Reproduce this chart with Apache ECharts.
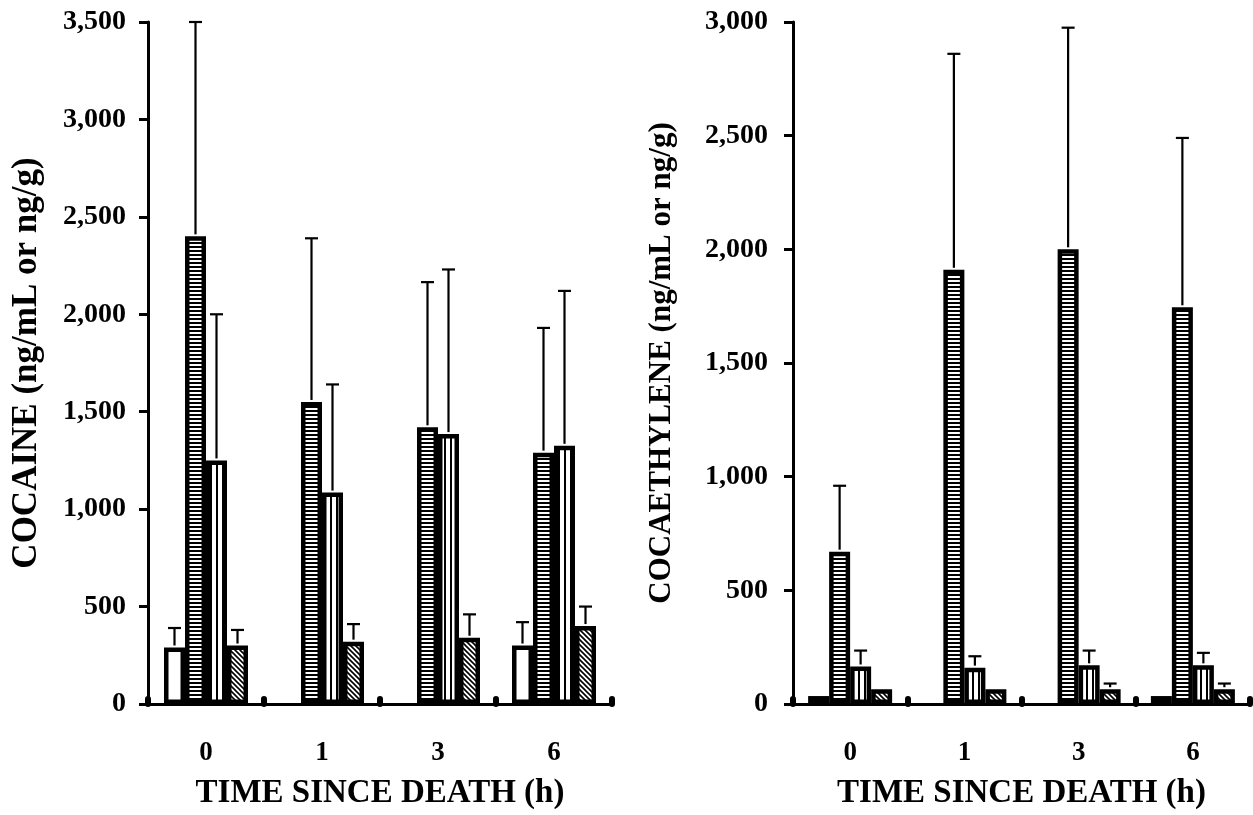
<!DOCTYPE html>
<html>
<head>
<meta charset="utf-8">
<script src="https://cdn.jsdelivr.net/npm/echarts@6/dist/echarts.min.js"></script>
<style>
  html, body { margin: 0; padding: 0; background: #fff; }
  #chart { width: 1253px; height: 815px; }
</style>
</head>
<body>
<div id="chart"></div>
<script>
// time since death (h)
const categories = ['0', '1', '3', '6'];

// cocaine, means
const cocOpen = [290, 0, 0, 300];
const cocHoriz = [2400, 1550, 1420, 1290];
const cocVert = [1250, 1085, 1385, 1325];
const cocDiag = [300, 320, 340, 400];
// cocaine, SD (upper error bar)
const cocOpenSd = [100, 0, 0, 120];
const cocHorizSd = [1100, 840, 745, 640];
const cocVertSd = [750, 555, 845, 795];
const cocDiagSd = [80, 90, 120, 100];

// cocaethylene, means
const ceOpen = [35, 0, 0, 35];
const ceHoriz = [670, 1910, 2000, 1745];
const ceVert = [165, 160, 170, 170];
const ceDiag = [65, 65, 65, 65];
// cocaethylene, SD
const ceOpenSd = [0, 0, 0, 0];
const ceHorizSd = [290, 950, 975, 745];
const ceVertSd = [70, 50, 65, 55];
const ceDiagSd = [0, 0, 25, 25];

const FONT = 'Liberation Serif';
const BAR_W = 21;

// hatch fills
function makePattern(w, h, draw) {
  const c = document.createElement('canvas');
  c.width = w; c.height = h;
  draw(c.getContext('2d'), w, h);
  return { image: c, repeat: 'repeat' };
}
const fillOpen = '#fff';
const fillHoriz = makePattern(4, 4, (ctx, w, h) => {
  ctx.fillStyle = '#000'; ctx.fillRect(0, 0, w, h);
  ctx.fillStyle = '#fff'; ctx.fillRect(0, 0, w, 2);
});
const fillVert = makePattern(6, 6, (ctx, w, h) => {
  ctx.fillStyle = '#fff'; ctx.fillRect(0, 0, w, h);
  ctx.fillStyle = '#000'; ctx.fillRect(0, 0, 2, h);
});
const fillDiag = makePattern(5, 5, (ctx, w, h) => {
  ctx.fillStyle = '#fff'; ctx.fillRect(0, 0, w, h);
  ctx.strokeStyle = '#000'; ctx.lineWidth = 1.6;
  ctx.beginPath();
  ctx.moveTo(-1, -1); ctx.lineTo(w + 1, h + 1);
  ctx.moveTo(-1, h - 1); ctx.lineTo(1, h + 1);
  ctx.moveTo(w - 1, -1); ctx.lineTo(w + 1, 1);
  ctx.stroke();
});
const fills = [fillOpen, fillHoriz, fillVert, fillDiag];
const names = ['open', 'horizontal', 'vertical', 'diagonal'];

function barSeries(idx, means, k) {
  return {
    name: names[k],
    type: 'bar',
    xAxisIndex: idx, yAxisIndex: idx,
    // zero = nothing drawn (no border stub on the axis)
    data: means.map(v => (v === 0 ? '-' : v)),
    barWidth: BAR_W,
    barGap: '0%',
    itemStyle: { color: fills[k], borderColor: '#000', borderWidth: 4.5 },
    z: 2
  };
}

function errSeries(idx, means, sds, k) {
  return {
    type: 'custom',
    xAxisIndex: idx, yAxisIndex: idx,
    data: means.map((m, i) => [i, m, sds[i]]),
    encode: { x: 0, y: 1 },
    z: 3,
    renderItem: function (params, api) {
      const sd = api.value(2);
      if (!sd) return null;
      const m = api.value(1);
      const base = api.coord([api.value(0), m]);
      const top = api.coord([api.value(0), m + sd]);
      const x = base[0] + (k - 1.5) * BAR_W;
      const style = { stroke: '#000', lineWidth: 2.2 };
      return {
        type: 'group',
        children: [
          { type: 'line', shape: { x1: x, y1: base[1] - 2, x2: x, y2: top[1] }, style: style },
          { type: 'line', shape: { x1: x - 6.5, y1: top[1], x2: x + 6.5, y2: top[1] }, style: style }
        ]
      };
    }
  };
}

function xAxis(gridIdx) {
  return {
    type: 'category',
    gridIndex: gridIdx,
    data: categories,
    boundaryGap: true,
    name: 'TIME SINCE DEATH (h)',
    nameLocation: 'middle',
    nameGap: 73,
    nameTextStyle: { fontFamily: FONT, fontWeight: 'bold', fontSize: 33, color: '#000' },
    axisLine: { lineStyle: { color: '#000', width: 3 } },
    axisTick: { show: true, inside: true, length: 5, interval: 0, alignWithLabel: false,
      lineStyle: { color: '#000', width: 6, cap: 'round' } },
    axisLabel: { margin: 36, fontFamily: FONT, fontWeight: 'bold', fontSize: 27, color: '#000' },
    splitLine: { show: false }
  };
}

function yAxis(gridIdx, name, max, gap, margin, nameSize) {
  return {
    type: 'value',
    gridIndex: gridIdx,
    min: 0, max: max, interval: 500,
    name: name,
    nameLocation: 'middle',
    nameGap: gap,
    nameRotate: 90,
    nameTextStyle: { fontFamily: FONT, fontWeight: 'bold', fontSize: nameSize, color: '#000' },
    axisLine: { show: true, lineStyle: { color: '#000', width: 3 } },
    axisTick: { show: true, length: 9, lineStyle: { color: '#000', width: 3 } },
    axisLabel: {
      margin: margin, fontFamily: FONT, fontWeight: 'bold', fontSize: 28, color: '#000',
      formatter: v => v.toLocaleString('en-US')
    },
    splitLine: { show: false }
  };
}

const chart = echarts.init(document.getElementById('chart'), null, { renderer: 'canvas' });
chart.setOption({
  backgroundColor: '#fff',
  animation: false,
  grid: [
    { left: 148, top: 22, width: 464, height: 685 },
    { left: 793, top: 22, width: 457, height: 683 }
  ],
  xAxis: [xAxis(0), xAxis(1)],
  yAxis: [
    yAxis(0, 'COCAINE (ng/mL or ng/g)', 3500, 104, 22, 35),
    yAxis(1, 'COCAETHYLENE (ng/mL or ng/g)', 3000, 116, 25, 31)
  ],
  series: [
    barSeries(0, cocOpen, 0),
    barSeries(0, cocHoriz, 1),
    barSeries(0, cocVert, 2),
    barSeries(0, cocDiag, 3),
    errSeries(0, cocOpen, cocOpenSd, 0),
    errSeries(0, cocHoriz, cocHorizSd, 1),
    errSeries(0, cocVert, cocVertSd, 2),
    errSeries(0, cocDiag, cocDiagSd, 3),
    barSeries(1, ceOpen, 0),
    barSeries(1, ceHoriz, 1),
    barSeries(1, ceVert, 2),
    barSeries(1, ceDiag, 3),
    errSeries(1, ceOpen, ceOpenSd, 0),
    errSeries(1, ceHoriz, ceHorizSd, 1),
    errSeries(1, ceVert, ceVertSd, 2),
    errSeries(1, ceDiag, ceDiagSd, 3)
  ]
});
</script>
</body>
</html>
